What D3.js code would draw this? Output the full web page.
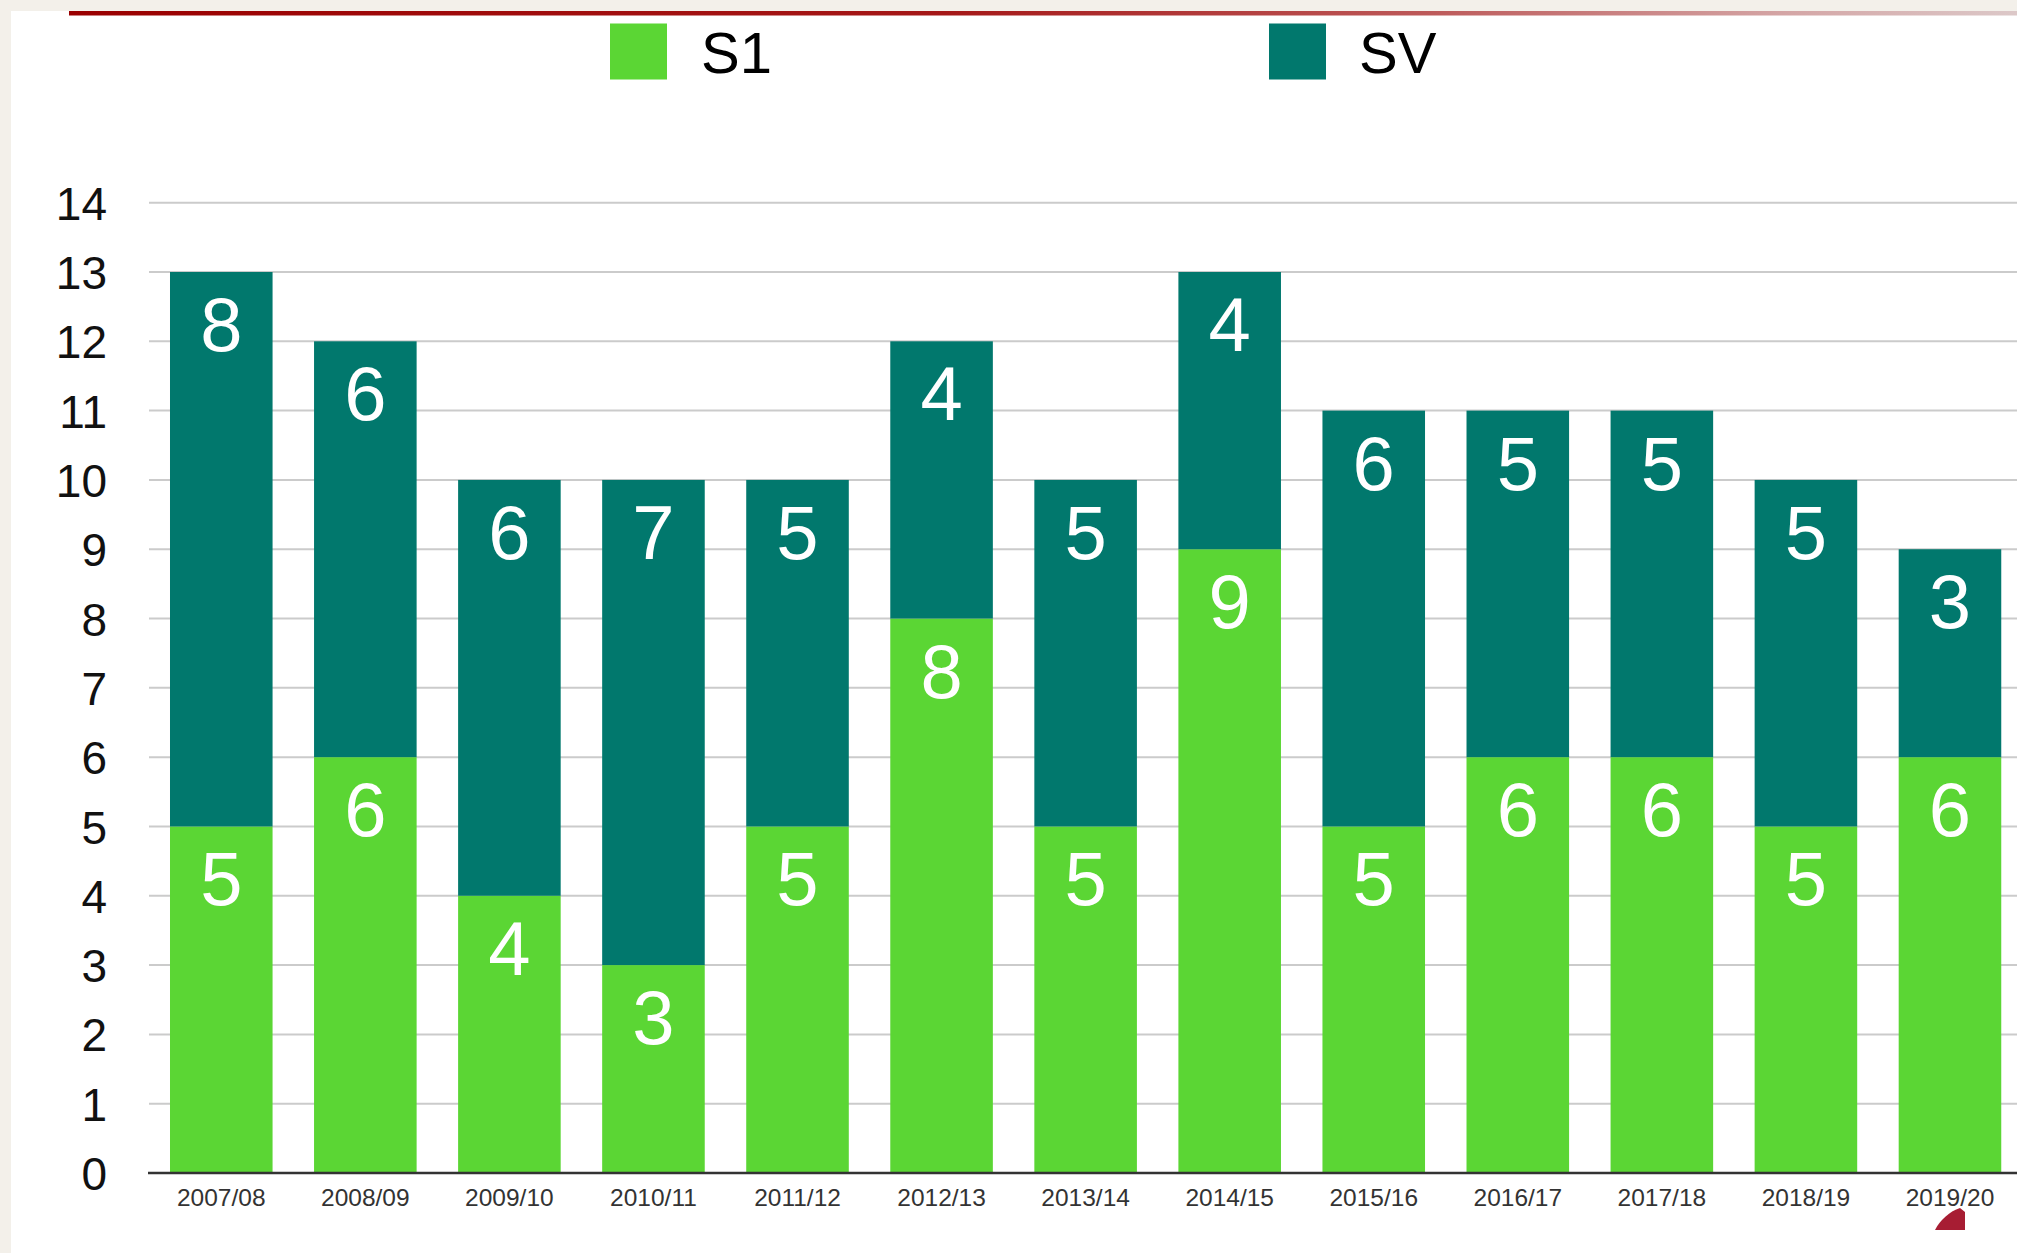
<!DOCTYPE html>
<html>
<head>
<meta charset="utf-8">
<script src="https://cdn.jsdelivr.net/npm/d3@7"></script>
<style>
  html, body { margin: 0; padding: 0; background: #f3f0ea; }
  svg { display: block; }
  text { font-family: "Liberation Sans", Arial, Helvetica, sans-serif; }
</style>
</head>
<body>
<svg id="chart" width="2017" height="1253"></svg>
<script>
const categories = ["2007/08","2008/09","2009/10","2010/11","2011/12","2012/13","2013/14","2014/15","2015/16","2016/17","2017/18","2018/19","2019/20"];
const s1Values = [5,6,4,3,5,8,5,9,5,6,6,5,6];
const svValues = [8,6,6,7,5,4,5,4,6,5,5,5,3];
const seriesNames = ["S1","SV"];
const yTicks = [0,1,2,3,4,5,6,7,8,9,10,11,12,13,14];

const colors = { S1: "#5bd634", SV: "#01786d" };

const W = 2017, H = 1253;
const svg = d3.select("#chart");

// page background + white panel
svg.append("rect").attr("x",0).attr("y",0).attr("width",W).attr("height",H).attr("fill","#f3f0ea");
svg.append("rect").attr("x",11).attr("y",11).attr("width",W-11).attr("height",H-11).attr("fill","#ffffff");

// red header rule with fade
const defs = svg.append("defs");
const grad = defs.append("linearGradient").attr("id","redfade").attr("x1","0%").attr("x2","100%");
grad.append("stop").attr("offset","0%").attr("stop-color","#9a0000");
grad.append("stop").attr("offset","45%").attr("stop-color","#a51818");
grad.append("stop").attr("offset","70%").attr("stop-color","#bd5a5a");
grad.append("stop").attr("offset","88%").attr("stop-color","#d4a5a5");
grad.append("stop").attr("offset","100%").attr("stop-color","#dcc8c8");
svg.append("rect").attr("x",69).attr("y",11).attr("width",W-69).attr("height",4.5).attr("fill","url(#redfade)");

// scales
const plotLeft = 149, plotRight = 2017;
const y = d3.scaleLinear().domain([0,14]).range([1173, 202.7]);
const x = d3.scaleBand().domain(categories).range([149.25, 2022]).paddingInner(0.288).paddingOuter(0.144);

// gridlines
svg.append("g").selectAll("line").data(yTicks.filter(d => d > 0)).join("line")
  .attr("x1", plotLeft).attr("x2", plotRight)
  .attr("y1", d => y(d)).attr("y2", d => y(d))
  .attr("stroke","#cbcbcb").attr("stroke-width",2);

// y axis labels
const yAxis = d3.axisLeft(y).tickValues(yTicks).tickSize(0).tickPadding(0).tickFormat(d3.format("d"));
const gy = svg.append("g").attr("transform","translate(107,0)").call(yAxis);
gy.select(".domain").remove();
gy.selectAll("text").attr("font-size",46).attr("fill","#111").attr("dy","0.36em")
  .style("font-family",'"Liberation Sans", Arial, sans-serif');

// stacked data
const rows = categories.map((c,i) => ({cat:c, S1:s1Values[i], SV:svValues[i]}));
const stacked = d3.stack().keys(seriesNames)(rows);

const layers = svg.append("g").selectAll("g").data(stacked).join("g")
  .attr("fill", d => colors[d.key]);
layers.selectAll("rect").data(d => d).join("rect")
  .attr("x", d => x(d.data.cat))
  .attr("width", x.bandwidth())
  .attr("y", d => y(d[1]))
  .attr("height", d => y(d[0]) - y(d[1]));

// value labels
const labelG = svg.append("g");
stacked.forEach(layer => {
  labelG.selectAll(null).data(layer).join("text")
    .attr("x", d => x(d.data.cat) + x.bandwidth()/2)
    .attr("y", d => y(d[1]) + 79)
    .attr("text-anchor","middle")
    .attr("font-size",76)
    .attr("fill","#ffffff")
    .text(d => d[1]-d[0]);
});

// x axis
const xAxis = d3.axisBottom(x).tickSize(0).tickPadding(0);
const gx = svg.append("g").attr("transform","translate(0,1175)").call(xAxis);
gx.select(".domain").remove();
gx.selectAll("text").attr("font-size",24.5).attr("fill","#333").attr("dy","1.25em")
  .style("font-family",'"Liberation Sans", Arial, sans-serif');
svg.append("line").attr("x1",148).attr("x2",W).attr("y1",1173).attr("y2",1173)
  .attr("stroke","#333").attr("stroke-width",2.5);

// legend
const legendItems = [
  {name:"S1", sx:610, tx:701},
  {name:"SV", sx:1269, tx:1359}
];
const lg = svg.append("g");
lg.selectAll("rect").data(legendItems).join("rect")
  .attr("x", d => d.sx).attr("y", 23.5).attr("width",57).attr("height",56)
  .attr("fill", d => colors[d.name]);
lg.selectAll("text").data(legendItems).join("text")
  .attr("x", d => d.tx).attr("y", 73)
  .attr("font-size",58).attr("fill","#000")
  .text(d => d.name);

// small red ornament at bottom right
svg.append("path")
  .attr("d","M1935,1230 C1940,1220 1950,1211 1960,1208 L1965,1212 L1965,1230 Z")
  .attr("fill","#a71d33");
</script>
</body>
</html>
